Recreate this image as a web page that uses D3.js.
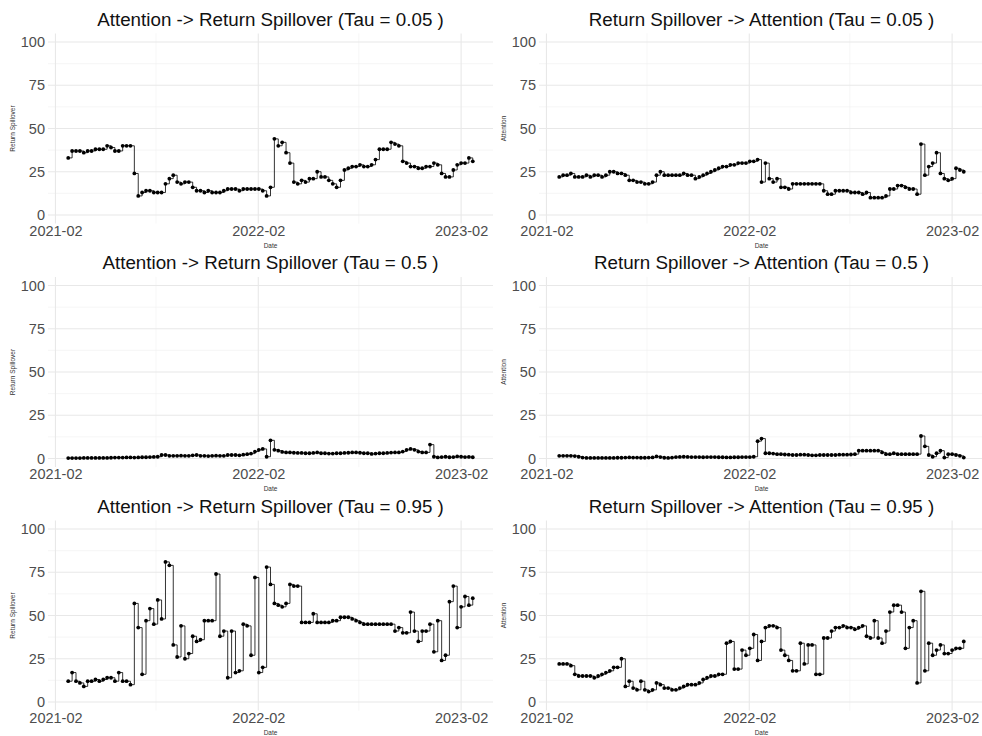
<!DOCTYPE html>
<html>
<head>
<meta charset="utf-8">
<script src="https://cdn.jsdelivr.net/npm/d3@7"></script>
<style>
  body { margin: 0; background: #fff; }
  text { font-family: "Liberation Sans", Arial, sans-serif; }
</style>
</head>
<body>
<svg id="chart" width="982" height="736"></svg>
<script>
// weekly observations, first one on this date
const startDate = "2021-02-24";
const stepDays = 7;

const xTicks = ["2021-02-01", "2022-02-01", "2023-02-01"];
const xMinor = ["2021-08-01", "2022-08-01"];
const yTicks = [0, 25, 50, 75, 100];
const yMinor = [12.5, 37.5, 62.5, 87.5];

const titles = [
  "Attention -> Return Spillover (Tau = 0.05 )",
  "Return Spillover -> Attention (Tau = 0.05 )",
  "Attention -> Return Spillover (Tau = 0.5 )",
  "Return Spillover -> Attention (Tau = 0.5 )",
  "Attention -> Return Spillover (Tau = 0.95 )",
  "Return Spillover -> Attention (Tau = 0.95 )"
];
const yLabels = ["Return Spillover", "Attention"];
const xLabel = "Date";

// Attention -> Return Spillover, tau 0.05
const attRet05 = [
  33,37,37,37,36,37,37,38,38,38,
  40,39,37,37,40,40,40,24,11,13,
  14,14,13,13,13,18,21,23,19,18,
  19,19,16,14,14,13,14,13,13,13,
  14,15,15,15,14,15,15,15,15,15,
  14,11,16,44,40,42,36,30,19,18,
  20,19,21,21,25,22,22,20,18,16,
  20,26,27,28,28,29,28,28,29,32,
  38,38,38,42,41,40,31,30,28,28,
  27,27,28,28,30,29,24,22,22,26,
  29,30,30,33,31
];
// Return Spillover -> Attention, tau 0.05
const retAtt05 = [
  22,23,23,24,22,22,22,23,22,23,
  23,22,23,25,25,24,24,23,20,20,
  19,19,18,18,19,23,25,23,23,23,
  23,23,24,23,23,21,22,23,24,25,
  26,27,28,28,29,29,30,30,30,31,
  31,32,19,30,21,19,21,16,16,15,
  18,18,18,18,18,18,18,18,14,12,
  12,14,14,14,14,13,13,13,12,13,
  10,10,10,10,11,15,15,17,17,16,
  15,15,12,41,23,28,30,36,24,21,
  20,21,27,26,25
];
// Attention -> Return Spillover, tau 0.5
const attRet50 = [
  0.2,0.2,0.2,0.2,0.3,0.3,0.3,0.3,0.3,0.3,
  0.3,0.4,0.5,0.5,0.5,0.6,0.6,0.5,0.6,0.7,
  0.7,0.8,0.9,1.0,2.0,2.0,1.5,1.5,1.5,1.6,
  1.5,1.5,1.8,2.0,1.5,1.5,1.4,1.5,1.6,1.5,
  1.5,2.0,2.0,2.0,1.8,2.2,2.5,2.8,4.0,5.0,
  5.5,1.0,10.5,5.0,4.5,3.8,3.5,3.5,3.3,3.2,
  3.2,3.0,3.0,3.2,3.5,3.0,3.0,2.8,2.8,3.0,
  3.0,3.2,3.3,3.5,3.5,3.3,3.0,3.0,2.6,2.8,
  3.0,3.0,3.2,3.4,3.5,3.5,4.0,5.0,5.5,5.0,
  4.0,3.5,3.5,8.0,1.0,0.6,0.8,1.0,0.7,0.8,
  1.2,1.0,0.8,0.9,0.7
];
// Return Spillover -> Attention, tau 0.5
const retAtt50 = [
  1.5,1.5,1.5,1.5,1.4,1.0,0.5,0.3,0.3,0.3,
  0.3,0.3,0.3,0.3,0.3,0.4,0.4,0.5,0.6,0.5,
  0.5,0.4,0.4,0.5,0.6,1.2,0.8,0.4,0.3,0.5,
  0.8,0.9,1.0,0.9,0.8,0.8,0.8,0.7,0.8,0.8,
  0.8,0.7,0.7,0.6,0.6,0.7,0.7,0.8,0.8,0.8,
  1.0,10.0,11.5,3.0,3.0,2.8,2.5,2.5,2.3,2.2,
  2.0,2.0,2.2,2.2,2.0,1.8,1.8,2.0,2.0,2.0,
  2.0,2.0,2.2,2.2,2.2,2.3,2.5,4.5,4.5,4.5,
  4.5,4.5,4.5,3.5,2.5,2.5,3.0,2.5,2.5,2.5,
  2.5,2.5,2.5,13.0,7.0,2.0,1.0,3.0,4.5,0.5,
  2.5,2.5,2.0,1.5,0.5
];
// Attention -> Return Spillover, tau 0.95
const attRet95 = [
  12,17,12,11,9,12,12,13,12,13,
  14,14,12,17,12,12,10,57,43,16,
  47,54,45,59,48,81,79,33,26,44,
  25,28,38,35,36,47,47,47,74,38,
  41,14,41,17,18,45,44,27,72,17,
  20,78,68,57,56,55,57,68,67,67,
  46,46,46,51,46,46,46,46,47,47,
  49,49,49,48,47,46,45,45,45,45,
  45,45,45,45,41,43,40,40,52,41,
  35,41,41,45,29,47,24,27,58,67,
  43,55,61,56,60
];
// Return Spillover -> Attention, tau 0.95
const retAtt95 = [
  22,22,22,21,16,15,15,15,15,14,
  15,16,17,18,20,20,25,9,12,8,
  7,12,7,6,7,11,10,8,8,7,
  7,8,9,10,10,10,11,13,14,15,
  15,16,16,34,35,19,19,30,27,31,
  39,24,35,43,44,44,43,30,27,24,
  18,18,34,22,33,33,16,16,37,37,
  41,43,43,44,43,43,42,43,44,38,
  37,47,37,34,41,52,56,56,52,31,
  43,47,11,64,18,34,27,30,33,28,
  28,30,31,31,35
];

const seriesList = [attRet05, retAtt05, attRet50, retAtt50, attRet95, retAtt95];

const parse = d3.timeParse("%Y-%m-%d");
const t0 = parse(startDate);

const svg = d3.select("#chart");
const colW = 491, rowH = 243.5;

seriesList.forEach((vals, k) => {
  const row = Math.floor(k / 2), col = k % 2;
  const data = vals.map((v, i) => ({ date: d3.timeDay.offset(t0, i * stepDays), value: v }));

  const ext = d3.extent(data, d => d.date);
  const pad = (ext[1] - ext[0]) * 0.05;
  const x = d3.scaleTime()
    .domain([new Date(+ext[0] - pad), new Date(+ext[1] + pad)])
    .range([48, 493]);
  const y = d3.scaleLinear().domain([-5, 105]).range([223.6, 33.4]);

  const g = svg.append("g")
    .attr("transform", `translate(${col * colW},${row * rowH})`);

  // grid
  g.selectAll(".ymin").data(yMinor).enter().append("line")
    .attr("x1", 48).attr("x2", 493)
    .attr("y1", d => y(d)).attr("y2", d => y(d))
    .attr("stroke", "#f0f0f0").attr("stroke-width", 0.6);
  g.selectAll(".xmin").data(xMinor.map(parse)).enter().append("line")
    .attr("x1", d => x(d)).attr("x2", d => x(d))
    .attr("y1", 33.4).attr("y2", 223.6)
    .attr("stroke", "#f0f0f0").attr("stroke-width", 0.6);
  g.selectAll(".ymaj").data(yTicks).enter().append("line")
    .attr("x1", 48).attr("x2", 493)
    .attr("y1", d => y(d)).attr("y2", d => y(d))
    .attr("stroke", "#e8e8e8").attr("stroke-width", 1.1);
  g.selectAll(".xmaj").data(xTicks.map(parse)).enter().append("line")
    .attr("x1", d => x(d)).attr("x2", d => x(d))
    .attr("y1", 33.4).attr("y2", 223.6)
    .attr("stroke", "#e8e8e8").attr("stroke-width", 1.1);

  // axes
  const ya = g.append("g").attr("transform", "translate(48,0)")
    .call(d3.axisLeft(y).tickValues(yTicks).tickSize(0).tickPadding(3));
  const xa = g.append("g").attr("transform", "translate(0,223.6)")
    .call(d3.axisBottom(x).tickValues(xTicks.map(parse))
      .tickFormat(d3.timeFormat("%Y-%m")).tickSize(0).tickPadding(2));
  [ya, xa].forEach(a => {
    a.select(".domain").remove();
    a.selectAll("text").attr("fill", "#4d4d4d")
      .style("font-size", "14.5px")
      .style("font-family", "'Liberation Sans', Arial, sans-serif");
  });

  // titles
  g.append("text").attr("x", 270.5).attr("y", 25.5)
    .attr("text-anchor", "middle").attr("fill", "#111")
    .style("font-size", "18.8px").text(titles[k]);
  g.append("text").attr("x", 270.5).attr("y", 247.5)
    .attr("text-anchor", "middle").attr("fill", "#333")
    .style("font-size", "6.5px").text(xLabel);
  g.append("text")
    .attr("transform", `translate(15,${(y(-5) + y(105)) / 2}) rotate(-90)`)
    .attr("text-anchor", "middle").attr("fill", "#333")
    .style("font-size", "6.5px").text(yLabels[col]);

  // series
  const line = d3.line().curve(d3.curveStepAfter)
    .x(d => x(d.date)).y(d => y(d.value));
  g.append("path").datum(data)
    .attr("d", line).attr("fill", "none")
    .attr("stroke", "#000").attr("stroke-width", 0.8);
  g.selectAll(".pt").data(data).enter().append("circle")
    .attr("cx", d => x(d.date)).attr("cy", d => y(d.value))
    .attr("r", 1.9).attr("fill", "#000");
});
</script>
</body>
</html>
